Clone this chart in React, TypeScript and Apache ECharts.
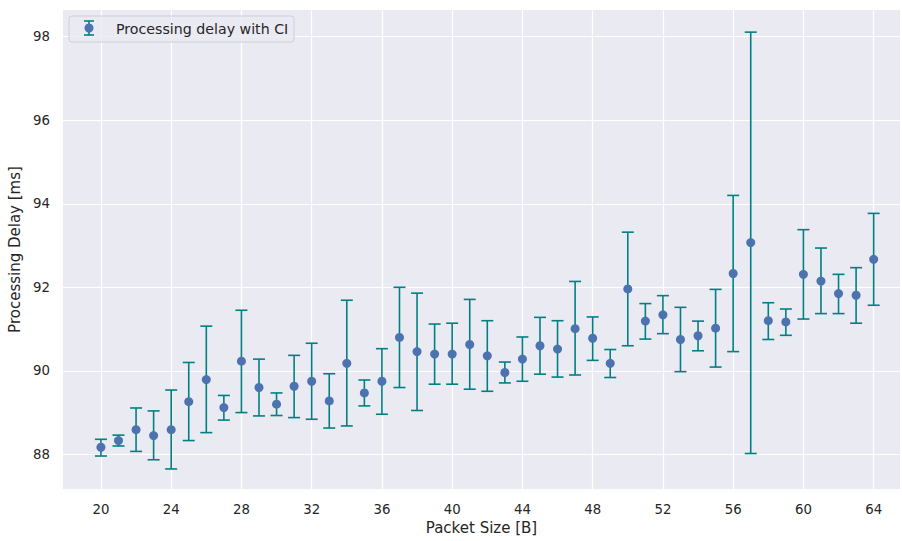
import React, { useEffect, useRef } from "react";
import * as echarts from "echarts";

const packetSizes = [20,21,22,23,24,25,26,27,28,29,30,31,32,33,34,35,36,37,38,39,40,41,42,43,44,45,46,47,48,49,50,51,52,53,54,55,56,57,58,59,60,61,62,63,64];
const meanDelay = [88.17,88.33,88.59,88.45,88.59,89.26,89.79,89.12,90.23,89.6,89.2,89.63,89.75,89.28,90.18,89.47,89.75,90.8,90.46,90.4,90.4,90.63,90.36,89.96,90.28,90.6,90.52,91.01,90.78,90.18,91.96,91.19,91.34,90.75,90.84,91.02,92.33,93.07,91.2,91.17,92.31,92.15,91.85,91.81,92.67];
const ciLow = [87.96,88.2,88.07,87.87,87.65,88.33,88.52,88.82,89.0,88.92,88.93,88.88,88.84,88.63,88.68,89.16,88.96,89.6,89.05,89.68,89.68,89.56,89.51,89.71,89.75,89.92,89.85,89.9,90.25,89.84,90.6,90.76,90.89,89.98,90.48,90.09,90.46,88.02,90.75,90.85,91.24,91.37,91.37,91.14,91.57];
const ciHigh = [88.36,88.46,89.11,89.04,89.54,90.2,91.07,89.41,91.45,90.28,89.47,90.37,90.66,89.93,91.69,89.78,90.53,92.0,91.86,91.12,91.14,91.71,91.2,90.21,90.81,91.28,91.2,92.14,91.29,90.51,93.32,91.61,91.8,91.52,91.19,91.95,94.2,98.11,91.63,91.48,93.38,92.94,92.31,92.47,93.77];
const xTicks = [20,24,28,32,36,40,44,48,52,56,60,64];
const yTicks = [88,90,92,94,96,98];

const FONT = "DejaVu Sans";
const TEAL = "#008080";
const BLUE = "#4C72B0";

export default function App() {
  const ref = useRef<HTMLDivElement>(null);
  useEffect(() => {
    if (!ref.current) return;
    const chart = echarts.init(ref.current, undefined, { renderer: "svg" });
    const errData = packetSizes.map((x, i) => [x, ciLow[i], ciHigh[i]]);
    const ptData = packetSizes.map((x, i) => [x, meanDelay[i]]);
    chart.setOption({
      animation: false,
      backgroundColor: "#ffffff",
      grid: { left: 63, right: 2, top: 10, bottom: 52, show: true, backgroundColor: "#EAEAF2", borderWidth: 0, containLabel: false, outerBoundsMode: "none" },
      xAxis: {
        type: "value",
        min: 17.84,
        max: 65.5,
        name: "Packet Size [B]",
        nameLocation: "middle",
        nameGap: 30,
        nameTextStyle: { fontFamily: FONT, fontSize: 15, color: "#262626" },
        axisLine: { show: false },
        axisTick: { show: false, customValues: xTicks },
        axisLabel: { customValues: xTicks, fontFamily: FONT, fontSize: 13.3, color: "#262626", margin: 14, formatter: (v: number) => String(v) },
        splitLine: { show: true, lineStyle: { color: "#ffffff", width: 1.2 } },
      },
      yAxis: {
        type: "value",
        min: 87.17,
        max: 98.64,
        name: "Processing Delay [ms]",
        nameLocation: "middle",
        nameGap: 35,
        nameTextStyle: { fontFamily: FONT, fontSize: 15, color: "#262626" },
        axisLine: { show: false },
        axisTick: { show: false, customValues: yTicks },
        axisLabel: { customValues: yTicks, fontFamily: FONT, fontSize: 13.3, color: "#262626", margin: 13, formatter: (v: number) => String(v) },
        splitLine: { show: true, lineStyle: { color: "#ffffff", width: 1.2 } },
      },
      series: [
        {
          type: "custom",
          data: errData,
          z: 2,
          renderItem: (params: any, api: any) => {
            const x = api.value(0);
            const lo = api.coord([x, api.value(1)]);
            const hi = api.coord([x, api.value(2)]);
            const cap = 6;
            const style = { stroke: TEAL, lineWidth: 1.6 };
            return {
              type: "group",
              children: [
                { type: "line", shape: { x1: lo[0], y1: lo[1], x2: hi[0], y2: hi[1] }, style },
                { type: "line", shape: { x1: lo[0] - cap, y1: lo[1], x2: lo[0] + cap, y2: lo[1] }, style },
                { type: "line", shape: { x1: hi[0] - cap, y1: hi[1], x2: hi[0] + cap, y2: hi[1] }, style },
              ],
            };
          },
        },
        {
          type: "scatter",
          data: ptData,
          z: 3,
          symbol: "circle",
          symbolSize: 9,
          itemStyle: { color: BLUE, opacity: 1 },
        },
      ],
      graphic: [
        { type: "rect", shape: { x: 69, y: 16, width: 225, height: 26, r: 3 }, style: { fill: "rgba(234,234,242,0.8)", stroke: "#d0d0d0", lineWidth: 1 }, z: 10 },
        { type: "line", shape: { x1: 89, y1: 21, x2: 89, y2: 35 }, style: { stroke: TEAL, lineWidth: 1.6 }, z: 11 },
        { type: "line", shape: { x1: 84, y1: 21, x2: 94, y2: 21 }, style: { stroke: TEAL, lineWidth: 1.6 }, z: 11 },
        { type: "line", shape: { x1: 84, y1: 35, x2: 94, y2: 35 }, style: { stroke: TEAL, lineWidth: 1.6 }, z: 11 },
        { type: "circle", shape: { cx: 89, cy: 28, r: 4.5 }, style: { fill: BLUE }, z: 12 },
        { type: "text", x: 116, y: 29, style: { text: "Processing delay with CI", fontFamily: FONT, fontSize: 14.2, fill: "#262626", verticalAlign: "middle" }, z: 12 },
      ],
    });
    return () => chart.dispose();
  }, []);
  return <div ref={ref} style={{ width: 902, height: 541, position: "absolute", left: 0, top: 0 }} />;
}
